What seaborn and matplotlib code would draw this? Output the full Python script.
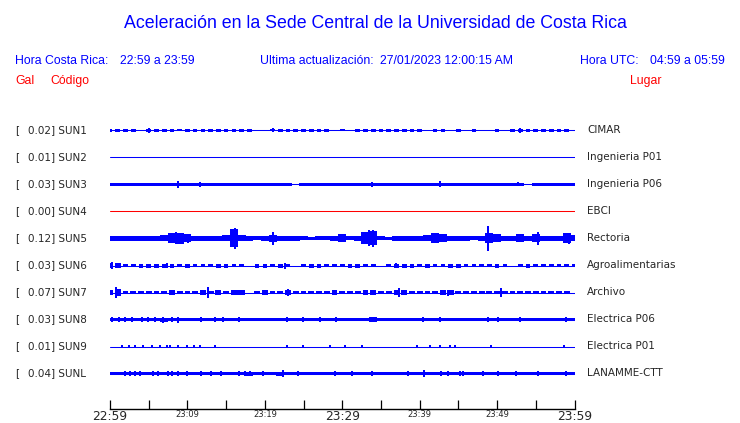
import matplotlib
matplotlib.use("Agg")
import matplotlib.pyplot as plt
import numpy as np
import pandas as pd
import seaborn as sns

# estaciones
codigos = ["SUN1", "SUN2", "SUN3", "SUN4", "SUN5", "SUN6", "SUN7", "SUN8", "SUN9", "SUNL"]
lugares = ["CIMAR", "Ingenieria P01", "Ingenieria P06", "EBCI", "Rectoria",
           "Agroalimentarias", "Archivo", "Electrica P06", "Electrica P01", "LANAMME-CTT"]
gal = [0.02, 0.01, 0.03, 0.00, 0.12, 0.03, 0.07, 0.03, 0.01, 0.04]
colores = ["blue", "blue", "blue", "red", "blue", "blue", "blue", "blue", "blue", "blue"]

minutos = list(range(61))
ticks_min = list(range(0, 61, 5))
etiquetas_tiempo = {0: "22:59", 10: "23:09", 20: "23:19", 30: "23:29",
                    40: "23:39", 50: "23:49", 60: "23:59"}
etiquetas_grandes = ["22:59", "23:29", "23:59"]

# envolvente (media amplitud, px) por minuto
env_sun1 = [1.5, 1.5, 1.5, 1.5, 0.0, 1.2, 1.5, 1.5, 1.2, 1.0, 1.2, 1.5, 1.5, 1.5, 1.8, 1.5,
            1.5, 1.5, 1.2, 0.0, 0.0, 1.0, 1.5, 1.5, 1.2, 1.5, 1.5, 1.2, 1.8, 0.0, 1.0, 0.0,
            1.2, 1.5, 1.5, 1.5, 1.5, 1.5, 1.5, 1.5, 1.8, 0.0, 1.2, 1.8, 0.0, 1.2, 0.0, 1.2,
            0.0, 0.9, 1.2, 0.0, 1.8, 1.5, 1.5, 1.2, 1.5, 1.5, 1.5, 1.2, 0.0]
env_sun2 = [0.0] * 61
env_sun3 = [1.5, 1.5, 1.5, 1.5, 1.5, 1.5, 1.5, 1.5, 1.5, 1.5, 1.5, 1.5, 1.5, 1.5, 1.5, 1.5,
            1.3, 1.3, 1.2, 1.5, 1.5, 1.3, 1.5, 1.3, 0.0, 1.2, 1.5, 1.5, 1.5, 1.5, 1.5, 1.5,
            1.5, 1.5, 1.5, 1.3, 1.5, 1.5, 1.5, 1.5, 1.5, 1.5, 1.5, 1.5, 1.5, 1.5, 1.3, 1.3,
            1.5, 1.5, 1.5, 1.5, 1.5, 1.3, 0.0, 1.5, 1.5, 1.5, 1.5, 1.5, 1.3]
env_sun4 = [0.0] * 61
env_sun5 = [2.7, 2.7, 2.5, 2.7, 2.5, 2.5, 2.5, 3.0, 5.0, 5.5, 4.0, 2.5, 2.7, 2.5, 2.5, 3.0,
            9.0, 3.0, 2.5, 2.0, 2.5, 3.5, 2.7, 2.7, 2.5, 2.0, 1.8, 2.0, 2.0, 2.5, 4.0, 2.0,
            2.5, 6.0, 7.0, 2.0, 1.8, 2.5, 2.5, 2.5, 2.5, 3.0, 5.0, 4.0, 2.5, 2.5, 2.5, 2.0,
            2.5, 5.0, 4.0, 2.5, 2.5, 4.0, 2.5, 4.0, 2.5, 2.5, 2.5, 5.0, 3.0]
env_sun6 = [2.2, 2.2, 1.5, 1.7, 2.0, 2.0, 2.0, 2.0, 2.0, 1.7, 2.0, 1.7, 1.5, 1.7, 2.0, 2.0,
            1.2, 1.7, 0.0, 2.0, 2.0, 1.7, 2.0, 1.7, 0.0, 1.7, 2.0, 2.0, 1.2, 1.7, 1.5, 2.0,
            2.0, 1.7, 1.5, 0.0, 1.2, 2.0, 2.0, 2.0, 1.7, 2.0, 1.7, 1.2, 2.0, 2.0, 1.2, 1.7,
            1.5, 1.2, 2.0, 1.7, 0.0, 1.7, 2.0, 1.7, 1.2, 1.7, 1.7, 1.7, 1.5]
env_sun7 = [2.4, 3.4, 1.9, 1.9, 1.4, 1.9, 1.9, 1.9, 2.4, 1.9, 1.9, 1.9, 2.4, 1.9, 2.2, 1.9,
            2.4, 2.2, 0.0, 1.2, 2.2, 1.6, 1.9, 2.4, 1.9, 1.2, 1.6, 1.2, 1.9, 2.2, 1.6, 1.9,
            1.9, 2.4, 2.2, 1.9, 1.6, 2.4, 2.4, 1.4, 1.2, 1.6, 1.9, 2.4, 2.4, 1.4, 1.6, 1.9,
            1.6, 1.2, 1.9, 1.9, 1.9, 1.6, 1.2, 1.9, 1.9, 1.9, 1.9, 1.2, 0.0]
env_sun8 = [1.8, 1.8, 1.8, 1.8, 1.8, 1.8, 1.8, 2.0, 1.8, 1.8, 1.6, 1.6, 1.6, 1.6, 1.6, 1.6,
            1.6, 1.6, 1.6, 1.6, 1.6, 1.6, 1.6, 1.6, 1.6, 1.6, 1.6, 1.6, 1.6, 1.6, 1.6, 1.6,
            1.6, 1.6, 2.3, 1.6, 1.6, 1.6, 1.6, 1.6, 1.6, 1.6, 1.6, 1.6, 1.6, 1.6, 1.6, 1.6,
            1.6, 1.6, 1.6, 1.6, 1.6, 1.6, 1.6, 1.6, 1.6, 1.6, 1.6, 1.6, 1.6]
env_sun9 = [0.0] * 61
env_sunl = [1.7, 1.7, 1.7, 1.7, 1.7, 1.7, 1.7, 1.7, 1.7, 1.7, 1.7, 1.7, 1.7, 1.7, 1.7, 1.7,
            1.7, 1.7, 2.0, 1.7, 1.7, 1.7, 2.0, 1.7, 1.7, 1.7, 1.7, 1.7, 1.7, 1.7, 1.7, 1.7,
            1.7, 1.7, 1.7, 1.7, 1.7, 1.7, 1.7, 1.7, 1.7, 1.7, 1.7, 1.7, 1.7, 1.7, 1.7, 1.7,
            1.7, 1.7, 1.7, 1.7, 1.7, 1.7, 1.7, 1.7, 1.7, 1.7, 1.7, 1.7, 1.7]

# picos (minuto, media amplitud px)
picos_sun1 = [(5.0, 2.5), (21.0, 2.0), (53.0, 2.5)]
picos_sun2 = []
picos_sun3 = [(8.8, 3.3), (11.6, 2.5), (33.8, 2.5), (42.6, 3.0), (52.7, 2.0)]
picos_sun4 = []
picos_sun5 = [(8.5, 6.0), (10.1, 4.5), (16.2, 10.5), (21.0, 6.5), (33.5, 8.0), (34.0, 8.5),
              (48.8, 12.5), (55.3, 6.5), (59.3, 5.5)]
picos_sun6 = [(0.2, 3.8), (1.3, 2.2), (7.3, 2.3), (22.6, 3.0), (37.0, 2.5)]
picos_sun7 = [(0.8, 5.7), (12.6, 5.3), (16.5, 2.5), (23.0, 3.5), (37.3, 4.5), (43.7, 3.0),
              (50.5, 4.5)]
picos_sun8 = [(0.2, 2.3), (1.1, 2.3), (1.9, 2.3), (2.8, 2.3), (4.1, 2.3), (4.9, 2.3),
              (5.8, 2.3), (6.9, 3.0), (8.0, 2.3), (8.8, 3.0), (11.8, 2.3), (13.5, 2.3),
              (14.6, 2.3), (16.6, 2.3), (22.8, 2.3), (24.9, 2.3), (27.1, 2.3), (29.2, 2.3),
              (40.4, 2.3), (42.6, 2.3), (48.8, 2.3), (50.1, 2.3), (52.9, 2.3), (58.9, 2.3)]
picos_sun9 = [(1.5, 1.3), (2.4, 1.3), (3.2, 1.3), (4.3, 1.3), (5.4, 1.3), (6.5, 1.3),
              (7.3, 1.3), (7.7, 1.3), (8.8, 1.7), (9.9, 1.3), (10.8, 1.3), (11.6, 1.3),
              (13.5, 1.3), (22.8, 1.7), (24.9, 1.3), (28.4, 1.3), (30.3, 1.3), (32.5, 1.3),
              (39.6, 1.3), (41.3, 1.7), (42.6, 1.5), (43.9, 1.3), (44.5, 1.3), (49.2, 1.3),
              (58.7, 1.3)]
picos_sunl = [(1.9, 2.5), (2.6, 2.3), (3.2, 2.3), (3.9, 2.3), (5.6, 2.3), (6.2, 2.3),
              (7.5, 2.3), (8.0, 2.3), (8.8, 2.3), (9.9, 2.3), (11.8, 2.3), (13.1, 2.3),
              (14.4, 2.3), (16.6, 2.3), (17.4, 2.3), (18.1, 2.5), (19.8, 2.3), (22.4, 3.5),
              (24.3, 2.3), (29.0, 2.3), (31.2, 2.3), (33.8, 2.3), (38.5, 2.3), (40.6, 3.5),
              (42.8, 2.3), (43.7, 2.3), (45.2, 2.3), (45.6, 2.3), (48.2, 2.3), (50.1, 2.3),
              (52.5, 2.3), (55.3, 2.3), (58.9, 2.3)]

envolventes = [env_sun1, env_sun2, env_sun3, env_sun4, env_sun5,
               env_sun6, env_sun7, env_sun8, env_sun9, env_sunl]
picos = [picos_sun1, picos_sun2, picos_sun3, picos_sun4, picos_sun5,
         picos_sun6, picos_sun7, picos_sun8, picos_sun9, picos_sunl]
# ancho de cada bloque (en minutos) para dar el aspecto de trazo cortado
anchos = [0.6, 1.0, 1.05, 1.0, 1.05, 0.6, 0.75, 1.05, 1.0, 1.05]

sns.set_style("white")
plt.rcParams['font.family'] = ['DejaVu Sans']

W, H = 740, 423
fig = plt.figure(figsize=(W / 100, H / 100), dpi=100)

def px(x, y):
    return x / W, 1 - y / H

sep = 27
ax = fig.add_axes([110 / W, (H - 409) / H, (574.5 - 110) / W, 291 / H])

filas = []
for i, cod in enumerate(codigos):
    for m in minutos:
        filas.append({"codigo": cod, "minuto": m, "y": -sep * i})
df = pd.DataFrame(filas)
sns.lineplot(data=df, x="minuto", y="y", hue="codigo",
             palette=dict(zip(codigos, colores)), lw=0.75, legend=False, ax=ax)

for i, cod in enumerate(codigos):
    off = -sep * i
    env = np.array(envolventes[i])
    if env.max() > 0:
        ax.bar(minutos, 2 * env, bottom=off - env, width=anchos[i], color=colores[i],
               linewidth=0, antialiased=False)
    if picos[i]:
        ms = [p[0] for p in picos[i]]
        amp = np.array([p[1] for p in picos[i]])
        ax.vlines(ms, off - amp, off + amp, color=colores[i], lw=1.2, antialiased=False)

ax.set_xlim(0, 60)
# medio pixel de desplazamiento para que las trazas caigan en el centro del pixel
ax.set_ylim(-sep * 9 - 35.5, 12.5)
for s in ["left", "top", "right"]:
    ax.spines[s].set_visible(False)
ax.spines["bottom"].set_color("black")
ax.spines["bottom"].set_linewidth(1.0)
ax.set_yticks([])
ax.set_xticks(ticks_min)
ax.set_xticklabels([etiquetas_tiempo.get(m, "") for m in ticks_min])
ax.tick_params(axis="x", bottom=True, direction="in", length=6.5, width=0.9,
               color="black", pad=1)
for lab in ax.get_xticklabels():
    lab.set_fontsize(8.8 if lab.get_text() in etiquetas_grandes else 6)
ax.set_xlabel("")
ax.set_ylabel("")

# textos
hf = "Liberation Sans"
fig.text(*px(375, 23), "Aceleración en la Sede Central de la Universidad de Costa Rica",
         ha="center", va="center", fontsize=12.8, color="blue", family=hf)
fig.text(*px(15, 61), "Hora Costa Rica:", va="center", fontsize=8.8, color="blue", family=hf)
fig.text(*px(120, 61), "22:59 a 23:59", va="center", fontsize=8.8, color="blue", family=hf)
fig.text(*px(260, 61), "Ultima actualización:", va="center", fontsize=8.8, color="blue", family=hf)
fig.text(*px(380, 61), "27/01/2023 12:00:15 AM", va="center", fontsize=8.8, color="blue", family=hf)
fig.text(*px(580, 61), "Hora UTC:", va="center", fontsize=8.8, color="blue", family=hf)
fig.text(*px(650, 61), "04:59 a 05:59", va="center", fontsize=8.8, color="blue", family=hf)
fig.text(*px(15, 81), "Gal", va="center", fontsize=8.8, color="red", family=hf)
fig.text(*px(50, 81), "Código", va="center", fontsize=8.8, color="red", family=hf)
fig.text(*px(630, 81), "Lugar", va="center", fontsize=8.8, color="red", family=hf)

for i, cod in enumerate(codigos):
    yy = 130 + sep * i
    fig.text(*px(15, yy), "[", va="center", fontsize=7.5)
    fig.text(*px(27.5, yy), f"{gal[i]:.2f}] {cod}", va="center", fontsize=7.5)
    fig.text(*px(587, yy), lugares[i], va="center", fontsize=7.5)

fig.savefig("out.png", dpi=100)
